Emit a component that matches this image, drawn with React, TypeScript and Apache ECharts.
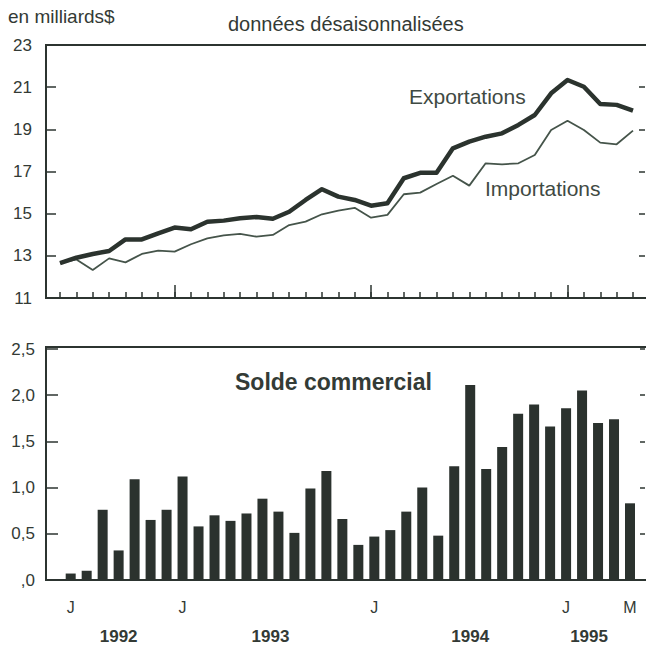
import React, { useEffect, useRef } from "react";
import * as echarts from "echarts";

// Months from June 1992 to May 1995 (French initials)
const months = [
  "J", "J", "A", "S", "O", "N", "D",
  "J", "F", "M", "A", "M", "J", "J", "A", "S", "O", "N", "D",
  "J", "F", "M", "A", "M", "J", "J", "A", "S", "O", "N", "D",
  "J", "F", "M", "A", "M",
];
const monthLabelIdx = [0, 7, 19, 31, 35];
const januaryIdx = [7, 19, 31];
const years = ["1992", "1993", "1994", "1995"];
const yearIdx = [3, 12, 25, 32];

const exportations = [
  12.65, 12.91, 13.09, 13.23, 13.78, 13.78, 14.07, 14.34, 14.26, 14.62, 14.67, 14.78,
  14.84, 14.76, 15.09, 15.65, 16.16, 15.81, 15.65, 15.38, 15.49, 16.68, 16.94, 16.94,
  18.1, 18.42, 18.65, 18.81, 19.21, 19.68, 20.71, 21.34, 21.02, 20.2, 20.16, 19.89,
];
const importations = [
  12.65, 12.83, 12.33, 12.88, 12.69, 13.09, 13.25, 13.2, 13.55, 13.83, 13.97, 14.04,
  13.91, 13.99, 14.46, 14.62, 14.97, 15.14, 15.28, 14.81, 14.94, 15.92, 16.0, 16.41,
  16.8, 16.33, 17.39, 17.34, 17.39, 17.78, 18.97, 19.41, 18.97, 18.37, 18.29, 18.94,
];
const solde = [
  0.07, 0.1, 0.76, 0.32, 1.09, 0.65, 0.76, 1.12, 0.58, 0.7, 0.64, 0.72,
  0.88, 0.74, 0.51, 0.99, 1.18, 0.66, 0.38, 0.47, 0.54, 0.74, 1.0, 0.48,
  1.23, 2.11, 1.2, 1.44, 1.8, 1.9, 1.66, 1.86, 2.05, 1.7, 1.74, 0.83,
];

const FONT = "'Liberation Sans', Arial, Helvetica, sans-serif";
const TXT = "#333a35";
const INK = "#2c3430";

export default function App() {
  const ref = useRef<HTMLDivElement>(null);
  useEffect(() => {
    document.body.style.margin = "0";
    const chart = echarts.init(ref.current!, null, { renderer: "svg" });
    const frame = (top: number, bottom: number) => ({
      type: "polyline",
      shape: { points: [[646, top], [46, top], [46, bottom], [646, bottom]] },
      style: { stroke: INK, lineWidth: 2, fill: "none" },
      silent: true,
    });
    const yearRich = { fontSize: 17, fontWeight: "bold", color: TXT, fontFamily: FONT };
    const option: any = {
      animation: false,
      backgroundColor: "#ffffff",
      textStyle: { fontFamily: FONT },
      grid: [
        { left: 60, right: 13, top: 45, height: 253 },
        { left: 62.7, right: 8, top: 349, height: 231 },
      ],
      xAxis: [
        {
          type: "category", gridIndex: 0, data: months, boundaryGap: false,
          axisLine: { show: false }, axisLabel: { show: false },
          axisTick: { show: true, inside: true, length: 6, interval: 0, lineStyle: { color: INK, width: 1.5 } },
        },
        {
          type: "category", gridIndex: 0, data: months, boundaryGap: false, position: "bottom",
          axisLine: { show: false }, axisLabel: { show: false },
          axisTick: {
            show: true, inside: true, length: 13,
            interval: (i: number) => januaryIdx.includes(i),
            lineStyle: { color: INK, width: 1.5 },
          },
        },
        {
          type: "category", gridIndex: 1, data: months, boundaryGap: true,
          axisLine: { show: false }, axisTick: { show: false },
          axisLabel: {
            interval: (i: number) => monthLabelIdx.includes(i),
            margin: 19, fontSize: 16, color: TXT, fontFamily: FONT,
          },
        },
        {
          type: "category", gridIndex: 1, data: months, boundaryGap: true, position: "bottom",
          axisLine: { show: false }, axisTick: { show: false },
          axisLabel: {
            interval: (i: number) => yearIdx.includes(i),
            formatter: (_v: string, i: number) => {
              const k = yearIdx.indexOf(i);
              if (k < 0) return "";
              if (k === 1) return "{a|" + years[k] + "}";
              if (k === 3) return "{b|" + years[k] + "}";
              return years[k];
            },
            rich: {
              a: { ...yearRich, padding: [0, 0, 0, 16] },
              b: { ...yearRich, padding: [0, 0, 0, 14] },
            },
            margin: 48, ...yearRich,
          },
        },
      ],
      yAxis: [
        {
          type: "value", gridIndex: 0, min: 11, max: 23, interval: 2, offset: 14,
          axisLine: { show: false }, splitLine: { show: false },
          axisTick: { show: true, inside: true, length: 10, lineStyle: { color: INK, width: 1.5 } },
          axisLabel: { margin: 14, fontSize: 17, color: TXT, fontFamily: FONT },
        },
        {
          type: "value", gridIndex: 0, min: 11, max: 23, interval: 2, position: "right", offset: 12,
          axisLine: { show: false }, splitLine: { show: false }, axisLabel: { show: false },
          axisTick: { show: true, inside: true, length: 6, lineStyle: { color: INK, width: 1.5 } },
        },
        {
          type: "value", gridIndex: 1, min: 0, max: 2.5, interval: 0.5, offset: 16.7,
          axisLine: { show: false }, splitLine: { show: false },
          axisTick: { show: true, inside: true, length: 12, lineStyle: { color: INK, width: 1.5 } },
          axisLabel: {
            margin: 11, fontSize: 17, color: TXT, fontFamily: FONT,
            formatter: (v: number) => (v === 0 ? ",0" : v.toFixed(1).replace(".", ",")),
          },
        },
        {
          type: "value", gridIndex: 1, min: 0, max: 2.5, interval: 0.5, position: "right", offset: 7,
          axisLine: { show: false }, splitLine: { show: false }, axisLabel: { show: false },
          axisTick: { show: true, inside: true, length: 5, lineStyle: { color: INK, width: 1.5 } },
        },
      ],
      series: [
        {
          name: "Importations", type: "line", xAxisIndex: 0, yAxisIndex: 0, data: importations,
          symbol: "none", lineStyle: { color: "#45544a", width: 1.8 }, z: 3,
        },
        {
          name: "Exportations", type: "line", xAxisIndex: 0, yAxisIndex: 0, data: exportations,
          symbol: "none", lineStyle: { color: "#2b332e", width: 4.5, join: "round" }, z: 4,
        },
        {
          name: "Solde commercial", type: "bar", xAxisIndex: 2, yAxisIndex: 2, data: solde,
          barWidth: 10, itemStyle: { color: "#2b322e" },
        },
      ],
      graphic: [
        frame(45, 298),
        frame(347, 580),
        {
          type: "text", left: 8, top: 7,
          style: { text: "en milliards$", fontSize: 19, fill: TXT, fontFamily: FONT },
        },
        {
          type: "text", left: 228, top: 14,
          style: { text: "données désaisonnalisées", fontSize: 20, fill: TXT, fontFamily: FONT },
        },
        {
          type: "text", left: 409, top: 86,
          style: { text: "Exportations", fontSize: 21, fill: "#3f4a43", fontFamily: FONT },
        },
        {
          type: "text", left: 485, top: 178,
          style: { text: "Importations", fontSize: 21, fill: "#3f4a43", fontFamily: FONT },
        },
        {
          type: "text", left: 235, top: 370,
          style: { text: "Solde commercial", fontSize: 23, fontWeight: "bold", fill: "#333b36", fontFamily: FONT },
        },
      ],
    };
    chart.setOption(option);
    return () => chart.dispose();
  }, []);
  return (
    <div
      ref={ref}
      style={{ position: "absolute", left: 0, top: 0, width: 646, height: 656 }}
    />
  );
}
